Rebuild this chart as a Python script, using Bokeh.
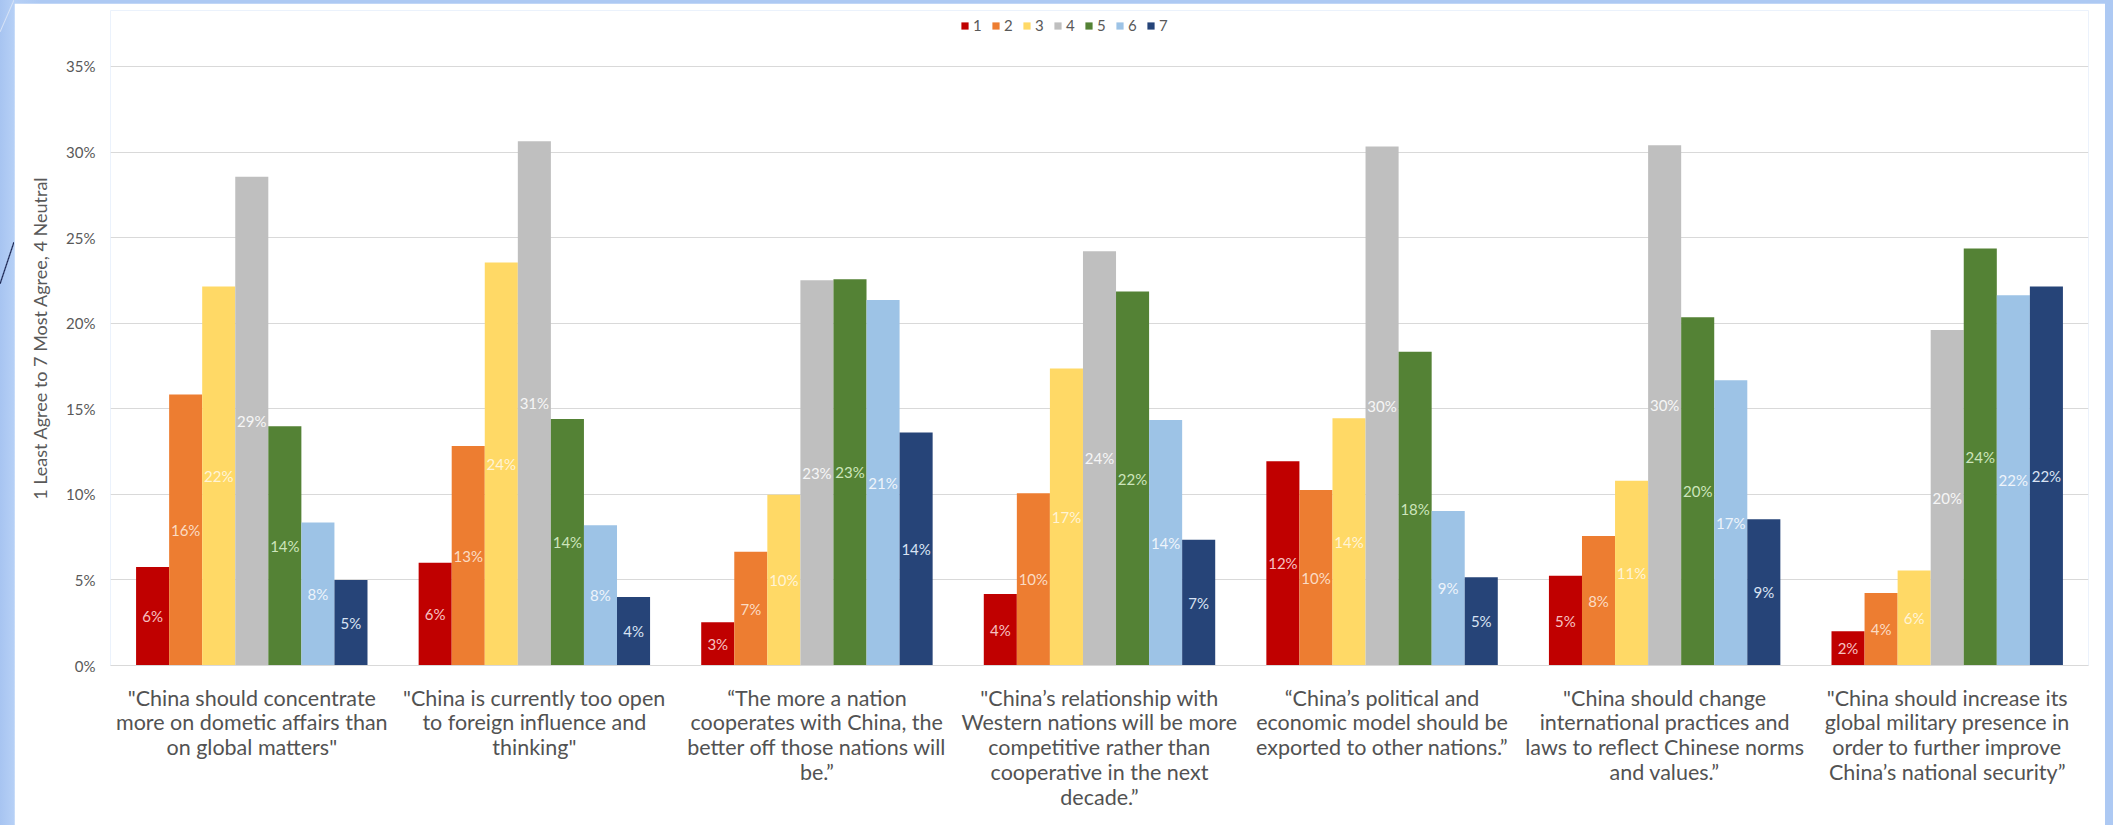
from bokeh.plotting import figure
from bokeh.models import (ColumnDataSource, FactorRange, Range1d, FixedTicker,
                          PrintfTickFormatter, Legend, LegendItem)
from bokeh.transform import dodge
from bokeh.layouts import row
from bokeh.embed import file_html
from bokeh.resources import INLINE
from bokeh.core.properties import value

categories = [
    '"China should concentrate\nmore on dometic affairs than\non global matters"',
    '"China is currently too open\nto foreign influence and\nthinking"',
    '\u201cThe more a nation\ncooperates with China, the\nbetter off those nations will\nbe.\u201d',
    '"China\u2019s relationship with\nWestern nations will be more\ncompetitive rather than\ncooperative in the next\ndecade.\u201d',
    '\u201cChina\u2019s political and\neconomic model should be\nexported to other nations.\u201d',
    '"China should change\ninternational practices and\nlaws to reflect Chinese norms\nand values.\u201d',
    '"China should increase its\nglobal military presence in\norder to further improve\nChina\u2019s national security\u201d',
]
series_names = ["1", "2", "3", "4", "5", "6", "7"]
s1 = [5.75, 6.0, 2.53, 4.18, 11.94, 5.25, 2.0]
s2 = [15.83, 12.83, 6.65, 10.06, 10.25, 7.56, 4.24]
s3 = [22.15, 23.54, 9.98, 17.35, 14.44, 10.79, 5.55]
s4 = [28.55, 30.63, 22.51, 24.2, 30.33, 30.4, 19.6]
s5 = [13.98, 14.4, 22.57, 21.85, 18.33, 20.35, 24.36]
s6 = [8.35, 8.19, 21.36, 14.34, 9.02, 16.67, 21.63]
s7 = [5.0, 4.0, 13.62, 7.35, 5.15, 8.55, 22.14]
y_ticks = [0, 5, 10, 15, 20, 25, 30, 35]

series = [s1, s2, s3, s4, s5, s6, s7]
colors = ["#C00000", "#ED7D31", "#FFD966", "#BFBFBF", "#548235", "#9DC3E6", "#264478"]
label_colors = ["#F6C2C2", "#FBDCC4", "#FFF4D6", "#F6F6F6", "#CDE5BC", "#EEF4FB", "#D9E3F3"]

data = {"cat": categories}
for j, s in enumerate(series):
    data[f"v{j}"] = s
    data[f"m{j}"] = [v / 2 for v in s]
    data[f"t{j}"] = [f"{v:.0f}%" for v in s]
src = ColumnDataSource(data)

p = figure(x_range=FactorRange(*categories), y_range=Range1d(0, 38.27),
           width=2091, height=822, output_backend="svg", toolbar_location=None,
           min_border_left=96, min_border_right=17, min_border_top=7,
           min_border_bottom=160, background_fill_color="white",
           border_fill_color="white")
p.outline_line_color = None
p.margin = (3, 8, 0, 14)

w = 0.117
renderers = []
for j in range(7):
    off = (j - 3) * w
    r = p.vbar(x=dodge("cat", off, range=p.x_range), top=f"v{j}", width=w,
               source=src, fill_color=colors[j], line_color=None)
    renderers.append(r)
for j in range(7):
    off = (j - 3) * w
    p.text(x=dodge("cat", off, range=p.x_range), y=f"m{j}", text=f"t{j}",
           source=src, text_align="center", text_baseline="middle",
           text_font=value("Lato"), text_font_size="15px",
           text_color=label_colors[j])

p.yaxis.ticker = FixedTicker(ticks=y_ticks)
p.yaxis.formatter = PrintfTickFormatter(format="%d%%")
p.yaxis.axis_line_color = None
p.yaxis.major_tick_line_color = None
p.yaxis.minor_tick_line_color = None
p.yaxis.major_tick_out = 0
p.yaxis.major_label_text_font = "Lato"
p.yaxis.major_label_text_font_size = "15px"
p.yaxis.major_label_text_color = "#595959"
p.yaxis.major_label_standoff = 15
p.yaxis.axis_label = "1 Least Agree to 7 Most Agree, 4 Neutral"
p.yaxis.axis_label_text_font = "Lato"
p.yaxis.axis_label_text_font_style = "normal"
p.yaxis.axis_label_text_font_size = "18px"
p.yaxis.axis_label_text_color = "#595959"
p.yaxis.axis_label_standoff = 12

p.xaxis.axis_line_color = "#D9D9D9"
p.xaxis.major_tick_line_color = None
p.xaxis.minor_tick_line_color = None
p.xaxis.major_tick_out = 0
p.xaxis.major_label_text_font = "Lato"
p.xaxis.major_label_text_font_size = "21.5px"
p.xaxis.major_label_text_color = "#525252"
p.xaxis.major_label_text_line_height = 0.96
p.xaxis.major_label_standoff = 19

p.xgrid.grid_line_color = None
p.ygrid.grid_line_color = "#D9D9D9"
p.ygrid.grid_line_width = 1

legend = Legend(items=[LegendItem(label=n, renderers=[r]) for n, r in zip(series_names, renderers)],
                orientation="horizontal", location=(850, 631),
                glyph_width=9, glyph_height=9, label_standoff=4, spacing=9,
                label_width=9, label_height=16,
                padding=0, margin=0, border_line_color=None,
                background_fill_alpha=0, label_text_font="Lato",
                label_text_font_size="15px", label_text_color="#595959")
p.add_layout(legend)

bg = ("linear-gradient(to bottom right, transparent calc(50% - 1.2px), #1B2552 50%, "
      "transparent calc(50% + 1.2px)) 0px 242px / 14px 42px no-repeat, "
      "linear-gradient(to bottom right, transparent calc(50% - 1px), #D6E2F6 50%, "
      "transparent calc(50% + 1px)) 0px 0px / 14px 32px no-repeat, "
      "linear-gradient(90deg, #A7C4F1, #B6D0F6 14px, #ADC9F3 40px)")
lay = row(p, styles={"background": bg})
open("out.html", "w").write(file_html(lay, INLINE))
